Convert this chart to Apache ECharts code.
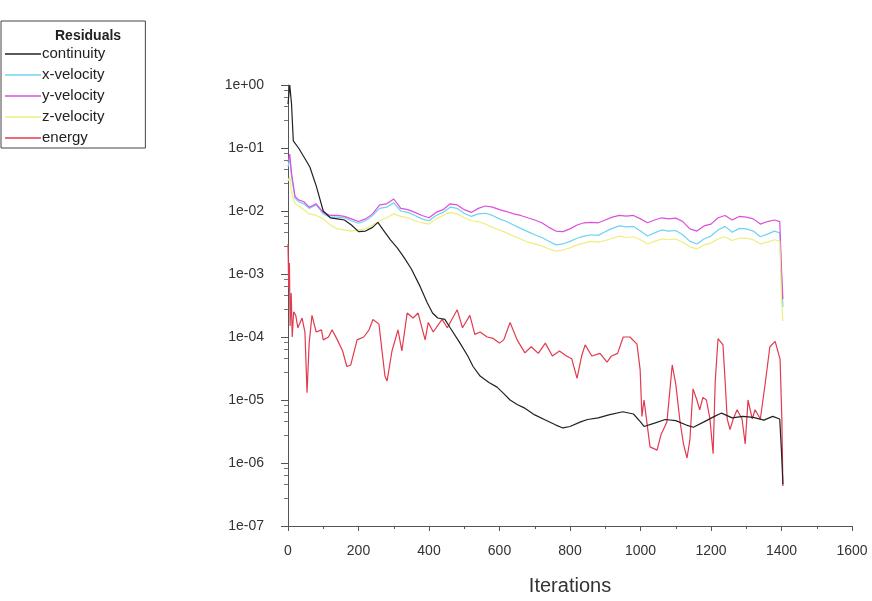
<!DOCTYPE html>
<html>
<head>
<meta charset="utf-8">
<script src="https://cdn.jsdelivr.net/npm/echarts@6/dist/echarts.min.js"></script>
<style>
  html, body { margin: 0; padding: 0; background: #fff; }
  #chart { width: 872px; height: 601px; }
</style>
</head>
<body>
<div id="chart"></div>
<script>
// residual history
const yTickLabels = ['1e+00', '1e-01', '1e-02', '1e-03', '1e-04', '1e-05', '1e-06', '1e-07'];
const legendNames = ['continuity', 'x-velocity', 'y-velocity', 'z-velocity', 'energy'];

const contIters = [0,5,10,15,30,50,62,80,100,120,140,160,180,200,220,240,255,270,290,310,
  330,350,375,395,410,425,445,460,488,510,525,545,570,593,610,630,650,670,700,730,
  760,780,800,830,850,880,910,950,980,1000,1010,1040,1070,1100,1130,1150,1180,1210,1230,1260,
  1290,1320,1350,1375,1395,1400,1404];
const contVals = [0.5,1.0,0.5,0.13,0.1,0.065,0.05,0.025,0.01,0.0078,
  0.0075,0.0072,0.006,0.0047,0.0048,0.0055,0.0066,0.005,0.0035,0.0026,
  0.0018,0.0012,6.3e-4,3.5e-4,2.4e-4,2e-4,1.9e-4,1.4e-4,8e-5,5e-5,
  3.4e-5,2.4e-5,1.9e-5,1.6e-5,1.3e-5,1e-5,8.5e-6,7.5e-6,5.8e-6,4.8e-6,
  4e-6,3.6e-6,3.8e-6,4.5e-6,4.9e-6,5.2e-6,5.8e-6,6.5e-6,6e-6,4.5e-6,
  3.8e-6,4.3e-6,4.9e-6,4.7e-6,4e-6,3.7e-6,4.5e-6,5.5e-6,6.2e-6,5.2e-6,
  5.5e-6,5.3e-6,4.8e-6,5.5e-6,5e-6,1.5e-6,4.6e-7];

const velIters = [0,5,10,20,30,45,60,80,
  100,120,140,160,180,200,220,240,260,280,300,320,340,360,380,400,420,440,460,480,500,520,
  540,560,580,600,620,640,660,680,700,720,740,760,780,800,820,840,860,880,900,920,
  940,960,980,1000,1020,1040,1060,1080,1100,1120,1140,1160,1180,1200,1220,1240,1260,1280,1300,1320,
  1340,1360,1380,1395,1400,1404];
const yVelVals = [0.06,0.08,0.04,0.017,0.015,0.014,0.0115,0.013,
  0.0095,0.0085,0.0085,0.0082,0.0075,0.0068,0.0075,0.009,0.0125,0.013,0.0155,0.011,0.0105,0.0095,0.0085,0.0078,0.0095,0.0105,0.013,0.0125,0.0105,0.0095,
  0.011,0.012,0.0115,0.0105,0.0098,0.009,0.0085,0.0078,0.0072,0.0065,0.0055,0.0048,0.0047,0.0052,0.006,0.0065,0.0066,0.0065,0.0072,0.008,
  0.0085,0.0083,0.0085,0.0075,0.0065,0.0072,0.0078,0.0075,0.0077,0.0068,0.0052,0.0048,0.0058,0.0062,0.0078,0.0085,0.0072,0.0082,0.008,0.0075,
  0.0062,0.0068,0.0072,0.0068,0.0012,0.0004];
const xVelVals = [0.05,0.07,0.035,0.016,0.014,0.013,0.011,0.0125,
  0.009,0.008,0.008,0.0078,0.007,0.0064,0.007,0.0085,0.011,0.0115,0.0135,0.01,0.0095,0.0085,0.0075,0.007,0.0085,0.0095,0.0115,0.011,0.0092,0.0082,
  0.009,0.0092,0.0085,0.0075,0.0068,0.006,0.0053,0.0047,0.0042,0.0038,0.0033,0.0029,0.003,0.0033,0.0037,0.004,0.0042,0.0041,0.0047,0.0053,
  0.0058,0.0056,0.0057,0.0048,0.004,0.0045,0.005,0.0048,0.0049,0.0042,0.0033,0.003,0.0036,0.004,0.005,0.0057,0.0046,0.0053,0.0052,0.0048,
  0.0039,0.0043,0.0048,0.0045,0.0009,0.0003];
const zVelVals = [0.03,0.035,0.02,0.013,0.012,0.0105,0.009,0.0085,
  0.0075,0.006,0.0052,0.005,0.0048,0.005,0.0052,0.006,0.007,0.0078,0.009,0.0082,0.0078,0.007,0.0065,0.0062,0.0075,0.0085,0.0095,0.009,0.0078,0.007,
  0.0068,0.0062,0.0055,0.005,0.0045,0.004,0.0036,0.0032,0.003,0.0028,0.0025,0.0023,0.0024,0.0026,0.0029,0.0031,0.0033,0.0032,0.0034,0.0037,
  0.004,0.0038,0.0039,0.0035,0.003,0.0033,0.0036,0.0035,0.0036,0.0032,0.0027,0.0025,0.0029,0.0031,0.0036,0.0039,0.0034,0.0037,0.0037,0.0035,
  0.003,0.0032,0.0035,0.0033,0.0004,0.00018];

const energyIters = [0,2,4,6,9,12,16,22,28,40,48,54,60,68,80,95,100,115,125,140,
  155,167,178,196,215,230,241,258,275,281,295,312,323,338,355,369,389,398,412,437,
  452,480,495,516,530,545,565,582,600,612,630,650,672,690,710,730,750,770,790,805,
  820,833,843,862,885,905,918,935,951,970,990,999,1004,1010,1018,1027,1047,1058,1067,1075,
  1090,1100,1112,1122,1132,1140,1149,1160,1168,1177,1187,1197,1206,1212,1220,1234,1240,1246,1254,1263,
  1274,1288,1297,1305,1317,1325,1340,1353,1367,1382,1396,1401,1404];
const energyVals = [3e-3,6e-4,1.5e-3,1.5e-4,5e-4,1e-4,2.5e-4,2.2e-4,1.4e-4,2e-4,1.2e-4,1.3e-5,8e-5,2.2e-4,1.2e-4,1.3e-4,9e-5,1e-4,1.3e-4,9e-5,
  6e-5,3.4e-5,3.6e-5,9e-5,1e-4,1.3e-4,1.9e-4,1.6e-4,2.4e-5,2e-5,6e-5,1.3e-4,6e-5,2.4e-4,2e-4,2.4e-4,9e-5,1.7e-4,1.2e-4,1.9e-4,
  1.4e-4,2.7e-4,1.4e-4,2.2e-4,1.1e-4,1.2e-4,1e-4,9.5e-5,8e-5,9e-5,1.7e-4,9e-5,5.6e-5,7e-5,5.5e-5,8e-5,5e-5,6e-5,5e-5,4.5e-5,
  2.2e-5,5e-5,7.5e-5,5e-5,5.5e-5,4e-5,5e-5,5.5e-5,1e-4,1e-4,7.7e-5,3e-5,5.5e-6,1e-5,4.5e-6,1.8e-6,1.6e-6,2.8e-6,3.6e-6,4.5e-6,
  3.6e-5,1.8e-5,4.6e-6,2e-6,1.2e-6,2.3e-6,1.5e-5,1e-5,7e-6,1.1e-5,1e-5,5e-6,1.4e-6,2e-5,9.4e-5,7.5e-5,2e-5,5e-6,3.4e-6,5e-6,
  7e-6,5e-6,2e-6,1e-5,5e-6,7e-6,5e-6,1.7e-5,7e-5,8.5e-5,4.4e-5,5e-6,4.3e-7];

const colors = ['#222222', '#6fd3ee', '#dc4fdc', '#eeee80', '#e23a4e'];

function pairs(xs, ys) {
  return xs.map((x, i) => [x, ys[i]]);
}

const seriesData = [
  pairs(contIters, contVals),
  pairs(velIters, xVelVals),
  pairs(velIters, yVelVals),
  pairs(velIters, zVelVals),
  pairs(energyIters, energyVals)
];

const chart = echarts.init(document.getElementById('chart'));
const font = '"Liberation Sans", Arial, sans-serif';

chart.setOption({
  animation: false,
  color: colors,
  textStyle: { fontFamily: font },
  title: {
    text: 'Residuals',
    left: 50,
    top: 24,
    textStyle: { fontSize: 14, fontWeight: 'bold', color: '#222', fontFamily: font }
  },
  legend: {
    data: legendNames,
    orient: 'vertical',
    left: 1,
    top: 21,
    padding: [25, 40, 2, 4],
    icon: 'rect',
    itemGap: 5,
    itemWidth: 36,
    itemHeight: 1.5,
    borderColor: '#444',
    borderWidth: 1,
    textStyle: { fontSize: 15, color: '#222', padding: [0, 0, 0, -4], lineHeight: 16 }
  },
  grid: { left: 288, right: 20, top: 85, bottom: 74 },
  xAxis: {
    type: 'value',
    min: 0,
    max: 1600,
    interval: 200,
    name: 'Iterations',
    nameLocation: 'middle',
    nameGap: 50,
    nameTextStyle: { fontSize: 20, color: '#333' },
    axisLine: { lineStyle: { color: '#555' } },
    axisTick: { length: 5, lineStyle: { color: '#555' } },
    minorTick: { show: true, splitNumber: 2, length: 3, lineStyle: { color: '#555' } },
    splitLine: { show: false },
    axisLabel: { fontSize: 14, color: '#333', margin: 18, formatter: v => String(v) }
  },
  yAxis: {
    type: 'log',
    logBase: 10,
    min: 1e-7,
    max: 1,
    splitNumber: 7,
    axisLine: { show: true, lineStyle: { color: '#555' } },
    axisTick: { show: true, length: 7, lineStyle: { color: '#555' } },
    minorTick: { show: true, splitNumber: 5, length: 4, lineStyle: { color: '#777' } },
    splitLine: { show: false },
    axisLabel: {
      fontSize: 14,
      color: '#333',
      margin: 24,
      formatter: v => yTickLabels[-Math.round(Math.log10(v))]
    }
  },
  series: legendNames.map((name, i) => ({
    name: name,
    type: 'line',
    data: seriesData[i],
    symbol: 'none',
    showSymbol: false,
    lineStyle: { width: 1.2, color: colors[i] },
    itemStyle: { color: colors[i] },
    z: i === 0 ? 3 : 2
  }))
});
</script>
</body>
</html>
